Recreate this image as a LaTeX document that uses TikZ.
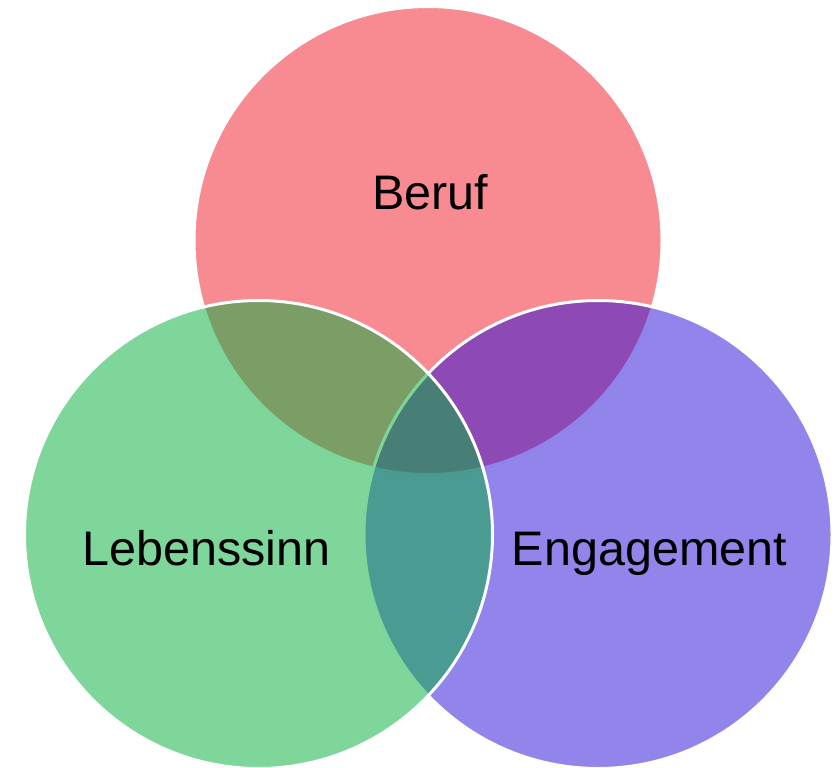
\documentclass[tikz,border=0pt]{standalone}
\usepackage{fontspec}
\setmainfont{Liberation Sans}
\definecolor{redc}{RGB}{239,23,35}
\definecolor{purc}{RGB}{35,11,217}
\definecolor{grnc}{RGB}{9,176,63}
\tikzset{
  venn/.style={circle, inner sep=0pt, minimum size=468pt, draw=white, line width=3pt, draw opacity=1},
  lbl/.style={anchor=base, text=black, font=\fontsize{48.5}{58}\selectfont}
}
\begin{document}
\begin{tikzpicture}[x=1pt,y=-1pt]
\useasboundingbox (0,0) rectangle (835,768);
\begin{scope}
\clip (0,0) rectangle (835,768);
\node[venn, fill=redc, fill opacity=0.5] (cberuf) at (428,240.5) {};
\node[venn, fill=purc, fill opacity=0.5] (ceng) at (598,534.5) {};
\node[venn, fill=grnc, fill opacity=0.52] (cleb) at (258.5,534.5) {};
\end{scope}
\node[lbl] (tberuf) at (430,209) {Beruf};
\node[lbl] (tleb) at (206.5,565) {Lebenssinn};
\node[lbl] (teng) at (649.5,565) {Engagement};
\end{tikzpicture}
\end{document}
